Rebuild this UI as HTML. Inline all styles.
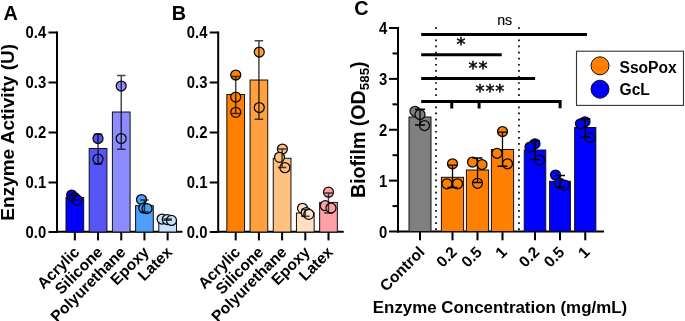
<!DOCTYPE html>
<html lang="en"><head><meta charset="utf-8"><title>Figure</title>
<style>html,body{margin:0;padding:0;background:#fff}svg{display:block;mix-blend-mode:multiply}</style></head><body>
<svg width="685" height="321" viewBox="0 0 685 321" font-family='"Liberation Sans", Arial, Helvetica, sans-serif' fill="#000">
<g>
<text transform="translate(14.3 132.3) rotate(-90)" text-anchor="middle" font-size="19" font-weight="bold">Enzyme Activity (U)</text>
<text x="3.5" y="20.1" font-size="19.8" font-weight="bold">A</text>
<path d="M57 31.5V233" stroke="#000" stroke-width="2" fill="none"/>
<path d="M56 231.85H182.5" stroke="#000" stroke-width="2" fill="none"/>
<path d="M48.5 32.5H57" stroke="#000" stroke-width="2"/>
<text transform="translate(46.2 38.3) scale(0.97 1.06)" text-anchor="end" font-size="15.3" font-weight="bold">0.4</text>
<path d="M48.5 82.5H57" stroke="#000" stroke-width="2"/>
<text transform="translate(46.2 88.3) scale(0.97 1.06)" text-anchor="end" font-size="15.3" font-weight="bold">0.3</text>
<path d="M48.5 132.5H57" stroke="#000" stroke-width="2"/>
<text transform="translate(46.2 138.3) scale(0.97 1.06)" text-anchor="end" font-size="15.3" font-weight="bold">0.2</text>
<path d="M48.5 182.5H57" stroke="#000" stroke-width="2"/>
<text transform="translate(46.2 188.3) scale(0.97 1.06)" text-anchor="end" font-size="15.3" font-weight="bold">0.1</text>
<path d="M48.5 232H57" stroke="#000" stroke-width="2"/>
<text transform="translate(46.2 237.8) scale(0.97 1.06)" text-anchor="end" font-size="15.3" font-weight="bold">0.0</text>
<rect x="66.00" y="197.50" width="17.70" height="34.50" fill="#0000ff" stroke="#111" stroke-width="1"/>
<circle cx="71.70" cy="195.00" r="5" fill="#0000ff" stroke="#0a0a0a" stroke-width="1.25"/>
<circle cx="74.50" cy="197.50" r="5" fill="#0000ff" stroke="#0a0a0a" stroke-width="1.25"/>
<circle cx="77.30" cy="200.10" r="5" fill="#0000ff" stroke="#0a0a0a" stroke-width="1.25"/>
<path d="M74.85 195.20V199.80M70.60 195.20H79.10M70.60 199.80H79.10" stroke="#000" stroke-opacity="0.72" stroke-width="1.5" fill="none"/>
<path d="M74.85 232V240.4" stroke="#000" stroke-width="2"/>
<text x="80.35" y="253.00" transform="rotate(-45 80.35 253.00)" text-anchor="end" font-size="15.6" font-weight="bold">Acrylic</text>
<rect x="89.20" y="148.50" width="17.70" height="83.50" fill="#5555f7" stroke="#111" stroke-width="1"/>
<circle cx="98.00" cy="138.50" r="5" fill="#5555f7" stroke="#0a0a0a" stroke-width="1.25"/>
<circle cx="98.00" cy="159.00" r="5" fill="#5555f7" stroke="#0a0a0a" stroke-width="1.25"/>
<path d="M98.05 134.00V164.00M93.80 134.00H102.30M93.80 164.00H102.30" stroke="#000" stroke-opacity="0.72" stroke-width="1.5" fill="none"/>
<path d="M98.05 232V240.4" stroke="#000" stroke-width="2"/>
<text x="103.55" y="253.00" transform="rotate(-45 103.55 253.00)" text-anchor="end" font-size="15.6" font-weight="bold">Silicone</text>
<rect x="112.40" y="112.00" width="17.70" height="120.00" fill="#8c8cff" stroke="#111" stroke-width="1"/>
<circle cx="121.20" cy="86.00" r="5" fill="#8c8cff" stroke="#0a0a0a" stroke-width="1.25"/>
<circle cx="121.20" cy="138.50" r="5" fill="#8c8cff" stroke="#0a0a0a" stroke-width="1.25"/>
<path d="M121.25 75.50V149.25M117.00 75.50H125.50M117.00 149.25H125.50" stroke="#000" stroke-opacity="0.72" stroke-width="1.5" fill="none"/>
<path d="M121.25 232V240.4" stroke="#000" stroke-width="2"/>
<text x="126.75" y="253.00" transform="rotate(-45 126.75 253.00)" text-anchor="end" font-size="15.6" font-weight="bold">Polyurethane</text>
<rect x="135.60" y="205.70" width="17.70" height="26.30" fill="#4e9ffb" stroke="#111" stroke-width="1"/>
<circle cx="141.50" cy="199.50" r="5" fill="#4e9ffb" stroke="#0a0a0a" stroke-width="1.25"/>
<circle cx="143.80" cy="208.00" r="5" fill="#4e9ffb" stroke="#0a0a0a" stroke-width="1.25"/>
<circle cx="147.00" cy="208.50" r="5" fill="#4e9ffb" stroke="#0a0a0a" stroke-width="1.25"/>
<path d="M144.45 200.00V212.00M140.20 200.00H148.70M140.20 212.00H148.70" stroke="#000" stroke-opacity="0.72" stroke-width="1.5" fill="none"/>
<path d="M144.45 232V240.4" stroke="#000" stroke-width="2"/>
<text x="149.95" y="253.00" transform="rotate(-45 149.95 253.00)" text-anchor="end" font-size="15.6" font-weight="bold">Epoxy</text>
<rect x="158.80" y="220.50" width="17.70" height="11.50" fill="#c8e1fa" stroke="#111" stroke-width="1"/>
<circle cx="162.10" cy="219.00" r="5" fill="#c8e1fa" stroke="#0a0a0a" stroke-width="1.25"/>
<circle cx="167.30" cy="219.50" r="5" fill="#c8e1fa" stroke="#0a0a0a" stroke-width="1.25"/>
<circle cx="171.50" cy="220.40" r="5" fill="#c8e1fa" stroke="#0a0a0a" stroke-width="1.25"/>
<path d="M167.65 219.10V220.20M163.40 219.10H171.90M163.40 220.20H171.90" stroke="#000" stroke-opacity="0.72" stroke-width="1.5" fill="none"/>
<path d="M167.65 232V240.4" stroke="#000" stroke-width="2"/>
<text x="173.15" y="253.00" transform="rotate(-45 173.15 253.00)" text-anchor="end" font-size="15.6" font-weight="bold">Latex</text>
</g>
<g>
<text x="171.7" y="20.1" font-size="19.8" font-weight="bold">B</text>
<path d="M218.2 31.5V233" stroke="#000" stroke-width="2" fill="none"/>
<path d="M217.2 231.85H343.7" stroke="#000" stroke-width="2" fill="none"/>
<path d="M209.7 32.5H218.2" stroke="#000" stroke-width="2"/>
<text transform="translate(207.39999999999998 38.3) scale(0.97 1.06)" text-anchor="end" font-size="15.3" font-weight="bold">0.4</text>
<path d="M209.7 82.5H218.2" stroke="#000" stroke-width="2"/>
<text transform="translate(207.39999999999998 88.3) scale(0.97 1.06)" text-anchor="end" font-size="15.3" font-weight="bold">0.3</text>
<path d="M209.7 132.5H218.2" stroke="#000" stroke-width="2"/>
<text transform="translate(207.39999999999998 138.3) scale(0.97 1.06)" text-anchor="end" font-size="15.3" font-weight="bold">0.2</text>
<path d="M209.7 182.5H218.2" stroke="#000" stroke-width="2"/>
<text transform="translate(207.39999999999998 188.3) scale(0.97 1.06)" text-anchor="end" font-size="15.3" font-weight="bold">0.1</text>
<path d="M209.7 232H218.2" stroke="#000" stroke-width="2"/>
<text transform="translate(207.39999999999998 237.8) scale(0.97 1.06)" text-anchor="end" font-size="15.3" font-weight="bold">0.0</text>
<rect x="226.85" y="94.50" width="17.70" height="137.50" fill="#ff8000" stroke="#111" stroke-width="1"/>
<circle cx="235.75" cy="75.00" r="5" fill="#ff8000" stroke="#0a0a0a" stroke-width="1.25"/>
<circle cx="235.75" cy="97.00" r="5" fill="#ff8000" stroke="#0a0a0a" stroke-width="1.25"/>
<circle cx="235.75" cy="112.30" r="5" fill="#ff8000" stroke="#0a0a0a" stroke-width="1.25"/>
<path d="M235.70 76.50V113.60M231.45 76.50H239.95M231.45 113.60H239.95" stroke="#000" stroke-opacity="0.72" stroke-width="1.5" fill="none"/>
<path d="M235.70 232V240.4" stroke="#000" stroke-width="2"/>
<text x="241.20" y="253.00" transform="rotate(-45 241.20 253.00)" text-anchor="end" font-size="15.6" font-weight="bold">Acrylic</text>
<rect x="250.05" y="80.00" width="17.70" height="152.00" fill="#ffa040" stroke="#111" stroke-width="1"/>
<circle cx="259.25" cy="52.00" r="5" fill="#ffa040" stroke="#0a0a0a" stroke-width="1.25"/>
<circle cx="259.25" cy="107.50" r="5" fill="#ffa040" stroke="#0a0a0a" stroke-width="1.25"/>
<path d="M258.90 40.75V119.25M254.65 40.75H263.15M254.65 119.25H263.15" stroke="#000" stroke-opacity="0.72" stroke-width="1.5" fill="none"/>
<path d="M258.90 232V240.4" stroke="#000" stroke-width="2"/>
<text x="264.40" y="253.00" transform="rotate(-45 264.40 253.00)" text-anchor="end" font-size="15.6" font-weight="bold">Silicone</text>
<rect x="273.25" y="158.30" width="17.70" height="73.70" fill="#ffc080" stroke="#111" stroke-width="1"/>
<circle cx="282.40" cy="149.00" r="5" fill="#ffc080" stroke="#0a0a0a" stroke-width="1.25"/>
<circle cx="279.50" cy="157.30" r="5" fill="#ffc080" stroke="#0a0a0a" stroke-width="1.25"/>
<circle cx="284.90" cy="167.70" r="5" fill="#ffc080" stroke="#0a0a0a" stroke-width="1.25"/>
<path d="M282.10 149.00V167.60M277.85 149.00H286.35M277.85 167.60H286.35" stroke="#000" stroke-opacity="0.72" stroke-width="1.5" fill="none"/>
<path d="M282.10 232V240.4" stroke="#000" stroke-width="2"/>
<text x="287.60" y="253.00" transform="rotate(-45 287.60 253.00)" text-anchor="end" font-size="15.6" font-weight="bold">Polyurethane</text>
<rect x="296.45" y="213.00" width="17.70" height="19.00" fill="#ffdfbf" stroke="#111" stroke-width="1"/>
<circle cx="302.50" cy="208.30" r="5" fill="#ffdfbf" stroke="#0a0a0a" stroke-width="1.25"/>
<circle cx="306.30" cy="212.50" r="5" fill="#ffdfbf" stroke="#0a0a0a" stroke-width="1.25"/>
<circle cx="308.80" cy="214.30" r="5" fill="#ffdfbf" stroke="#0a0a0a" stroke-width="1.25"/>
<path d="M305.30 209.50V216.30M301.05 209.50H309.55M301.05 216.30H309.55" stroke="#000" stroke-opacity="0.72" stroke-width="1.5" fill="none"/>
<path d="M305.30 232V240.4" stroke="#000" stroke-width="2"/>
<text x="310.80" y="253.00" transform="rotate(-45 310.80 253.00)" text-anchor="end" font-size="15.6" font-weight="bold">Epoxy</text>
<rect x="319.65" y="202.40" width="17.70" height="29.60" fill="#ffa0a5" stroke="#111" stroke-width="1"/>
<circle cx="328.50" cy="192.20" r="5" fill="#ffa0a5" stroke="#0a0a0a" stroke-width="1.25"/>
<circle cx="325.30" cy="205.70" r="5" fill="#ffa0a5" stroke="#0a0a0a" stroke-width="1.25"/>
<circle cx="331.00" cy="208.00" r="5" fill="#ffa0a5" stroke="#0a0a0a" stroke-width="1.25"/>
<path d="M328.50 193.00V213.00M324.25 193.00H332.75M324.25 213.00H332.75" stroke="#000" stroke-opacity="0.72" stroke-width="1.5" fill="none"/>
<path d="M328.50 232V240.4" stroke="#000" stroke-width="2"/>
<text x="334.00" y="253.00" transform="rotate(-45 334.00 253.00)" text-anchor="end" font-size="15.6" font-weight="bold">Latex</text>
</g>
<g>
<text x="354.3" y="14.8" font-size="19.8" font-weight="bold">C</text>
<path d="M398 27V232.5" stroke="#000" stroke-width="2" fill="none"/>
<path d="M397 231.5H604" stroke="#000" stroke-width="2" fill="none"/>
<path d="M389 28.0H398" stroke="#000" stroke-width="2"/>
<text transform="translate(387.2 34.2) scale(0.97 1.06)" text-anchor="end" font-size="15.3" font-weight="bold">4</text>
<path d="M392.5 53.44H398" stroke="#000" stroke-width="2"/>
<path d="M389 78.875H398" stroke="#000" stroke-width="2"/>
<text transform="translate(387.2 85.075) scale(0.97 1.06)" text-anchor="end" font-size="15.3" font-weight="bold">3</text>
<path d="M392.5 104.315H398" stroke="#000" stroke-width="2"/>
<path d="M389 129.75H398" stroke="#000" stroke-width="2"/>
<text transform="translate(387.2 135.95) scale(0.97 1.06)" text-anchor="end" font-size="15.3" font-weight="bold">2</text>
<path d="M392.5 155.19H398" stroke="#000" stroke-width="2"/>
<path d="M389 180.625H398" stroke="#000" stroke-width="2"/>
<text transform="translate(387.2 186.825) scale(0.97 1.06)" text-anchor="end" font-size="15.3" font-weight="bold">1</text>
<path d="M392.5 206.065H398" stroke="#000" stroke-width="2"/>
<path d="M389 231.5H398" stroke="#000" stroke-width="2"/>
<text transform="translate(387.2 237.7) scale(0.97 1.06)" text-anchor="end" font-size="15.3" font-weight="bold">0</text>
<text transform="translate(364.8 129.7) rotate(-90)" text-anchor="middle" font-size="19.6" font-weight="bold">Biofilm (OD<tspan font-size="13.4" dy="4.3">585</tspan><tspan dy="-4.3">)</tspan></text>
<path d="M436.05 27.35V231" stroke="#000" stroke-width="1.7" stroke-dasharray="1.7 4.39" fill="none"/>
<path d="M518.95 27.35V231" stroke="#000" stroke-width="1.7" stroke-dasharray="1.7 4.39" fill="none"/>
<rect x="409.00" y="117.00" width="22.00" height="114.50" fill="#808080" stroke="#111" stroke-width="1"/>
<circle cx="415.00" cy="111.25" r="5" fill="#808080" stroke="#0a0a0a" stroke-width="1.25"/>
<circle cx="420.00" cy="114.50" r="5" fill="#808080" stroke="#0a0a0a" stroke-width="1.25"/>
<circle cx="424.50" cy="125.50" r="5" fill="#808080" stroke="#0a0a0a" stroke-width="1.25"/>
<path d="M420.00 109.25V125.00M415.00 109.25H425.00M415.00 125.00H425.00" stroke="#000" stroke-opacity="1" stroke-width="1.3" fill="none"/>
<path d="M420.00 231.5V240.3" stroke="#000" stroke-width="2"/>
<text x="425.50" y="253.00" transform="rotate(-45 425.50 253.00)" text-anchor="end" font-size="15.6" font-weight="bold">Control</text>
<rect x="441.40" y="177.30" width="22.20" height="54.20" fill="#ff8000" stroke="#111" stroke-width="1"/>
<circle cx="452.50" cy="163.75" r="5" fill="#ff8000" stroke="#0a0a0a" stroke-width="1.25"/>
<circle cx="447.00" cy="183.75" r="5" fill="#ff8000" stroke="#0a0a0a" stroke-width="1.25"/>
<circle cx="457.50" cy="183.75" r="5" fill="#ff8000" stroke="#0a0a0a" stroke-width="1.25"/>
<path d="M452.50 165.20V187.50M447.50 165.20H457.50M447.50 187.50H457.50" stroke="#000" stroke-opacity="1" stroke-width="1.3" fill="none"/>
<path d="M452.50 231.5V240.3" stroke="#000" stroke-width="2"/>
<text x="458.00" y="253.00" transform="rotate(-45 458.00 253.00)" text-anchor="end" font-size="15.6" font-weight="bold">0.2</text>
<rect x="466.40" y="170.00" width="22.20" height="61.50" fill="#ff8000" stroke="#111" stroke-width="1"/>
<circle cx="472.50" cy="162.00" r="5" fill="#ff8000" stroke="#0a0a0a" stroke-width="1.25"/>
<circle cx="482.00" cy="164.50" r="5" fill="#ff8000" stroke="#0a0a0a" stroke-width="1.25"/>
<circle cx="477.50" cy="183.25" r="5" fill="#ff8000" stroke="#0a0a0a" stroke-width="1.25"/>
<path d="M477.50 158.00V182.50M472.50 158.00H482.50M472.50 182.50H482.50" stroke="#000" stroke-opacity="1" stroke-width="1.3" fill="none"/>
<path d="M477.50 231.5V240.3" stroke="#000" stroke-width="2"/>
<text x="483.00" y="253.00" transform="rotate(-45 483.00 253.00)" text-anchor="end" font-size="15.6" font-weight="bold">0.5</text>
<rect x="491.40" y="149.50" width="22.20" height="82.00" fill="#ff8000" stroke="#111" stroke-width="1"/>
<circle cx="502.50" cy="131.50" r="5" fill="#ff8000" stroke="#0a0a0a" stroke-width="1.25"/>
<circle cx="497.00" cy="153.25" r="5" fill="#ff8000" stroke="#0a0a0a" stroke-width="1.25"/>
<circle cx="507.50" cy="163.75" r="5" fill="#ff8000" stroke="#0a0a0a" stroke-width="1.25"/>
<path d="M502.50 132.20V166.25M497.50 132.20H507.50M497.50 166.25H507.50" stroke="#000" stroke-opacity="1" stroke-width="1.3" fill="none"/>
<path d="M502.50 231.5V240.3" stroke="#000" stroke-width="2"/>
<text x="508.00" y="253.00" transform="rotate(-45 508.00 253.00)" text-anchor="end" font-size="15.6" font-weight="bold">1</text>
<rect x="524.25" y="150.00" width="21.50" height="81.50" fill="#0000ff" stroke="#111" stroke-width="1"/>
<circle cx="535.00" cy="143.75" r="5" fill="#0000ff" stroke="#0a0a0a" stroke-width="1.25"/>
<circle cx="530.00" cy="147.00" r="5" fill="#0000ff" stroke="#0a0a0a" stroke-width="1.25"/>
<circle cx="539.50" cy="160.00" r="5" fill="#0000ff" stroke="#0a0a0a" stroke-width="1.25"/>
<path d="M535.00 141.00V159.50M530.00 141.00H540.00M530.00 159.50H540.00" stroke="#000" stroke-opacity="1" stroke-width="1.3" fill="none"/>
<path d="M535.00 231.5V240.3" stroke="#000" stroke-width="2"/>
<text x="540.50" y="253.00" transform="rotate(-45 540.50 253.00)" text-anchor="end" font-size="15.6" font-weight="bold">0.2</text>
<rect x="549.60" y="181.25" width="20.80" height="50.25" fill="#0000ff" stroke="#111" stroke-width="1"/>
<circle cx="555.50" cy="175.00" r="5" fill="#0000ff" stroke="#0a0a0a" stroke-width="1.25"/>
<circle cx="559.50" cy="183.00" r="5" fill="#0000ff" stroke="#0a0a0a" stroke-width="1.25"/>
<circle cx="564.50" cy="185.00" r="5" fill="#0000ff" stroke="#0a0a0a" stroke-width="1.25"/>
<path d="M560.00 175.50V187.00M555.00 175.50H565.00M555.00 187.00H565.00" stroke="#000" stroke-opacity="1" stroke-width="1.3" fill="none"/>
<path d="M560.00 231.5V240.3" stroke="#000" stroke-width="2"/>
<text x="565.50" y="253.00" transform="rotate(-45 565.50 253.00)" text-anchor="end" font-size="15.6" font-weight="bold">0.5</text>
<rect x="574.65" y="127.50" width="21.20" height="104.00" fill="#0000ff" stroke="#111" stroke-width="1"/>
<circle cx="585.00" cy="121.75" r="5" fill="#0000ff" stroke="#0a0a0a" stroke-width="1.25"/>
<circle cx="580.50" cy="123.75" r="5" fill="#0000ff" stroke="#0a0a0a" stroke-width="1.25"/>
<circle cx="590.00" cy="137.50" r="5" fill="#0000ff" stroke="#0a0a0a" stroke-width="1.25"/>
<path d="M585.25 118.75V137.00M580.25 118.75H590.25M580.25 137.00H590.25" stroke="#000" stroke-opacity="1" stroke-width="1.3" fill="none"/>
<path d="M585.25 231.5V240.3" stroke="#000" stroke-width="2"/>
<text x="590.75" y="253.00" transform="rotate(-45 590.75 253.00)" text-anchor="end" font-size="15.6" font-weight="bold">1</text>
<g stroke="#000" stroke-width="3" fill="none">
<path d="M421.2 34.4H587"/>
<path d="M421.2 54.7H501.7"/>
<path d="M421.2 78.4H535.1"/>
<path d="M421.2 101.45H561.6M451.75 101.45V108.6M479.1 101.45V108.6M560.1 99.95V108.2"/>
</g>
<text x="497.2" y="25.1" font-size="14.2" fill="#000" stroke="#000" stroke-width="0.15">ns</text>
<text x="456.5" y="50.4" font-family="DejaVu Sans, sans-serif" font-size="18" letter-spacing="0.9" stroke="#000" stroke-width="0.5">*</text>
<text x="468.5" y="73.9" font-family="DejaVu Sans, sans-serif" font-size="18" letter-spacing="0.9" stroke="#000" stroke-width="0.5">**</text>
<text x="475.5" y="97.4" font-family="DejaVu Sans, sans-serif" font-size="18" letter-spacing="0.9" stroke="#000" stroke-width="0.5">***</text>
<rect x="576.5" y="51.2" width="107" height="54.2" fill="#fff" stroke="#333" stroke-width="1.1"/>
<circle cx="600" cy="65.8" r="9" fill="#ff8000" stroke="#111" stroke-width="1"/>
<circle cx="600" cy="89.2" r="9" fill="#0000ff" stroke="#111" stroke-width="1"/>
<text x="619.5" y="72.7" font-size="15.6" font-weight="bold">SsoPox</text>
<text x="619.5" y="94.8" font-size="15.6" font-weight="bold">GcL</text>
<text x="372.8" y="312.8" font-size="16.9" font-weight="bold">Enzyme Concentration (mg/mL)</text>
</g>
</svg></body></html>
